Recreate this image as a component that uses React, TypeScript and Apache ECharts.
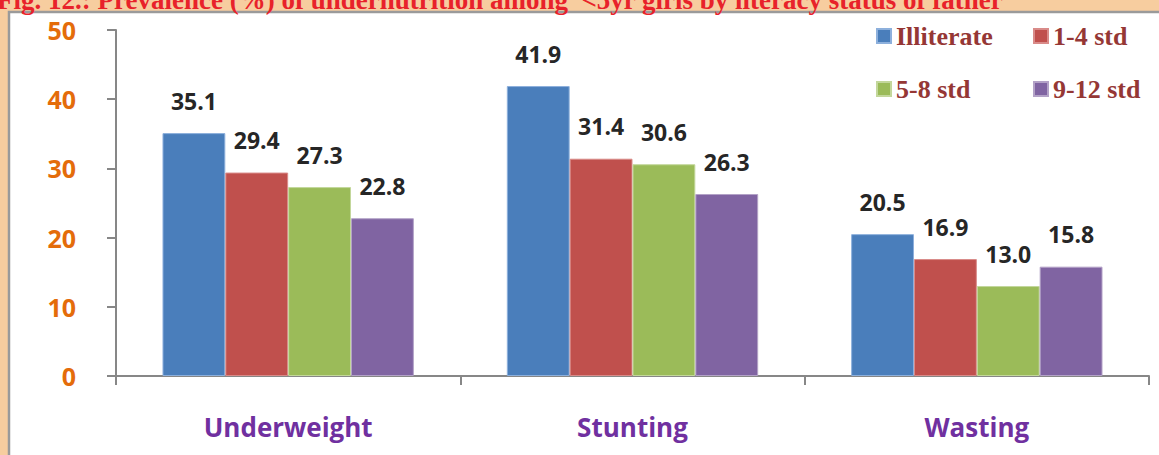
import React, { useEffect, useRef } from "react";
import * as echarts from "echarts";

const titleText = "Fig. 12.: Prevalence (%) of undernutrition among  <5yr girls by literacy status of father";
const categories = ["Underweight", "Stunting", "Wasting"];
const seriesNames = ["Illiterate", "1-4 std", "5-8 std", "9-12 std"];
const illiterate = [35.1, 41.9, 20.5];
const std1to4 = [29.4, 31.4, 16.9];
const std5to8 = [27.3, 30.6, 13.0];
const std9to12 = [22.8, 26.3, 15.8];
const yTicks = [0, 10, 20, 30, 40, 50];

const colors = ["#4A7EBB", "#C0504D", "#9BBB59", "#8064A2"];
const borders = ["#8DB0DC", "#D98B89", "#C3D79B", "#B3A2C7"];

export default function App() {
  const ref = useRef<HTMLDivElement>(null);
  useEffect(() => {
    if (!ref.current) return;
    const chart = echarts.init(ref.current, undefined, { renderer: "svg" });
    const dataSets = [illiterate, std1to4, std5to8, std9to12];
    const legendText = {
      fontFamily: "Liberation Serif",
      fontWeight: "bold" as const,
      fontSize: 26,
      color: "#953735",
      lineHeight: 28,
    };
    chart.setOption({
      animation: false,
      backgroundColor: "#F7CD9F",
      graphic: [
        {
          type: "rect",
          z: -10,
          silent: true,
          shape: { x: 9, y: 12, width: 1200, height: 500 },
          style: { fill: "#FFFFFF", stroke: "#9A9A9A", lineWidth: 2.5 },
        },
        {
          type: "text",
          left: -3,
          top: -14,
          style: {
            text: titleText,
            fontFamily: "Liberation Serif",
            fontWeight: "bold",
            fontSize: 27,
            lineHeight: 27,
            fill: "#E8222A",
          },
        },
      ],
      legend: [
        {
          data: [seriesNames[0], seriesNames[2]],
          orient: "vertical",
          left: 871,
          top: 17,
          icon: "rect",
          itemWidth: 14,
          itemHeight: 14,
          itemGap: 25,
          textStyle: legendText,
          selectedMode: false,
        },
        {
          data: [seriesNames[1], seriesNames[3]],
          orient: "vertical",
          left: 1028,
          top: 17,
          icon: "rect",
          itemWidth: 14,
          itemHeight: 14,
          itemGap: 25,
          textStyle: legendText,
          selectedMode: false,
        },
      ],
      grid: { left: 116, right: 10, top: 30, bottom: 79, containLabel: false },
      xAxis: {
        type: "category",
        data: categories,
        axisLine: { show: true, lineStyle: { color: "#878787", width: 2 } },
        axisTick: { show: true, length: 9, lineStyle: { color: "#878787", width: 2 } },
        axisLabel: {
          margin: 38,
          color: "#7030A0",
          fontFamily: "Open Sans",
          fontWeight: "bold",
          fontSize: 26,
        },
        splitLine: { show: false },
      },
      yAxis: {
        type: "value",
        min: yTicks[0],
        max: yTicks[yTicks.length - 1],
        interval: 10,
        axisLine: { show: true, lineStyle: { color: "#878787", width: 2 } },
        axisTick: { show: true, length: 9, lineStyle: { color: "#878787", width: 2 } },
        axisLabel: {
          margin: 40,
          color: "#E46C0A",
          fontFamily: "Open Sans",
          fontWeight: "bold",
          fontSize: 25,
        },
        splitLine: { show: false },
      },
      series: seriesNames.map((name, i) => ({
        name,
        type: "bar",
        data: dataSets[i],
        barGap: "0%",
        barCategoryGap: "27%",
        itemStyle: { color: colors[i], borderColor: borders[i], borderWidth: 1 },
        label: {
          show: true,
          position: "top",
          distance: 21,
          formatter: (p: any) => Number(p.value).toFixed(1),
          color: "#262626",
          fontFamily: "Open Sans",
          fontWeight: "bold",
          fontSize: 23,
        },
      })),
    });
    return () => chart.dispose();
  }, []);
  return (
    <div
      ref={ref}
      style={{ position: "fixed", left: 0, top: 0, width: 1159, height: 455 }}
    />
  );
}
